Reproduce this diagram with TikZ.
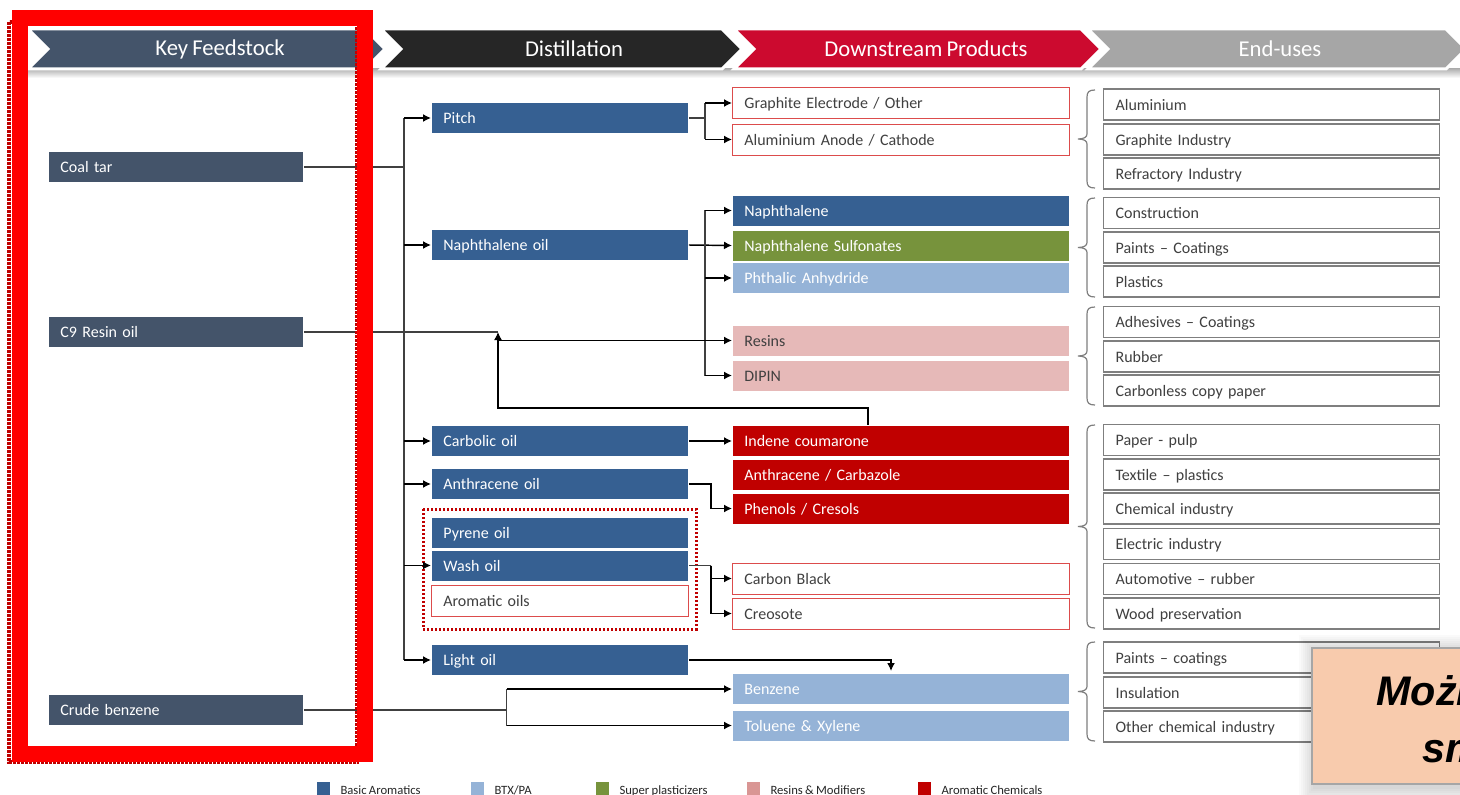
\documentclass[tikz,border=0pt]{standalone}
\usepackage{fontspec}
\setmainfont{Carlito}[WordSpace=0.8]
\newfontfamily\notefont{Liberation Sans}
\usetikzlibrary{arrows.meta}

\definecolor{slate}{HTML}{44546A}
\definecolor{basicblue}{HTML}{366092}
\definecolor{btxblue}{HTML}{95B3D7}
\definecolor{plastgreen}{HTML}{77933C}
\definecolor{resinpink}{HTML}{E6B9B8}
\definecolor{resinleg}{HTML}{D99694}
\definecolor{aromred}{HTML}{C00000}
\definecolor{boxred}{HTML}{DC4C4C}
\definecolor{hdred}{HTML}{CC0A2F}
\definecolor{hdgray}{HTML}{A6A6A6}
\definecolor{hddark}{HTML}{262626}
\definecolor{usegray}{HTML}{7F7F7F}
\definecolor{darktext}{HTML}{404040}
\definecolor{peach}{HTML}{F8CBAD}
\definecolor{hlred}{HTML}{FF0000}

\tikzset{every picture/.style={line width=0.75pt}}
\tikzset{
  basebox/.style={anchor=west, minimum height=23.25pt, inner xsep=9pt, inner ysep=0pt, align=left,
    font=\fontsize{12}{14}\selectfont, text height=10.4pt, text depth=1.8pt, draw=white, line width=0.6pt},
  feedbox/.style={basebox, fill=slate, text=white, text width=173.25pt},
  distbox/.style={basebox, fill=basicblue, text=white, text width=174.75pt},
  prodbox/.style={basebox, fill=#1, text=white, text width=234.75pt},
  pinkbox/.style={prodbox=resinpink, text=darktext},
  outbox/.style={basebox, fill=white, draw=boxred, text=darktext, text width=234.75pt},
  usebox/.style={basebox, fill=white, draw=usegray, text=darktext, text width=234pt, line width=0.9pt},
  chev/.style={draw=white, line width=2.25pt},
  hdtext/.style={text=white, font=\fontsize{17}{20}\selectfont},
  conn/.style={draw=black!75, line width=0.9pt},
  arr/.style={draw=black, line width=1.1pt, -{Latex[length=6pt,width=6pt]}},
  brace/.style={draw=usegray, line width=0.9pt},
  legtext/.style={anchor=base west, inner sep=0pt, text=black!85, font=\fontsize{9.5}{11}\selectfont},
  notetext/.style={anchor=base west, inner sep=0pt, font=\notefont\bfseries\itshape\fontsize{31}{36}\selectfont}
}

\begin{document}
\begin{tikzpicture}[x=0.75pt,y=0.75pt,yscale=-1,xscale=1]
\useasboundingbox (0,0) rectangle (1460,795);
\fill[white] (0,0) rectangle (1460,795);

%Header shadow
\shade[top color=black!30, bottom color=white] (28,69) rectangle (1460,78);
%Header chevrons
\foreach \L/\R/\col/\cx/\name/\lbl in {28/365/slate/220/hdfeed/Key Feedstock, 381/722/hddark/574/hddist/Distillation, 734/1081/hdred/926/hddown/Downstream Products, 1088/1446/hdgray/1280/hduse/End-uses}
{
  \draw[chev, fill=\col] (\L,29) -- (\R,29) -- (\R+20,49) -- (\R,69) -- (\L,69) -- (\L+20,49) -- cycle;
  \node[hdtext] (\name) at (\cx,49) {\lbl};
}

% Key feedstock
\node[feedbox] (coal) at (48,167) {Coal tar};
\node[feedbox] (c9) at (48,332) {C9 Resin oil};
\node[feedbox] (crude) at (48,710) {Crude benzene};

% Distillation
\node[distbox] (pitch) at (431,118) {Pitch};
\node[distbox] (naphoil) at (431,245) {Naphthalene oil};
\node[distbox] (carbolic) at (431,441) {Carbolic oil};
\node[distbox] (anthoil) at (431,484) {Anthracene oil};
\node[distbox] (pyrene) at (431,532.5) {Pyrene oil};
\node[distbox] (washoil) at (431,565.5) {Wash oil};
\node[outbox, text width=174.75pt] (aromoil) at (431,600.5) {Aromatic oils};
\node[distbox] (lightoil) at (431,660) {Light oil};
%Shape: dotted group
\draw[draw=aromred, line width=2.25pt, dash pattern={on 1.5pt off 1.5pt}] (423,509) rectangle (696,629);

% Downstream products
\node[outbox] (graphite) at (732,103) {Graphite Electrode / Other};
\node[outbox] (alu) at (732,139.5) {Aluminium Anode / Cathode};
\node[prodbox=basicblue] (naph) at (732,210.5) {Naphthalene};
\node[prodbox=plastgreen] (sulfon) at (732,245.5) {Naphthalene Sulfonates};
\node[prodbox=btxblue] (phthalic) at (732,278) {Phthalic Anhydride};
\node[pinkbox] (resins) at (732,340.5) {Resins};
\node[pinkbox] (dipin) at (732,375.5) {DIPIN};
\node[prodbox=aromred] (indene) at (732,440.5) {Indene coumarone};
\node[prodbox=aromred] (anthcarb) at (732,474.5) {Anthracene / Carbazole};
\node[prodbox=aromred] (phenols) at (732,508.5) {Phenols / Cresols};
\node[outbox] (cblack) at (732,578.5) {Carbon Black};
\node[outbox] (creosote) at (732,613.5) {Creosote};
\node[prodbox=btxblue] (benzene) at (732,689) {Benzene};
\node[prodbox=btxblue] (toluene) at (732,725.5) {Toluene \& Xylene};

% End-uses
\node[usebox] (aluminium) at (1103,104.5) {Aluminium};
\node[usebox] (graphind) at (1103,139.5) {Graphite Industry};
\node[usebox] (refract) at (1103,173.5) {Refractory Industry};
\node[usebox] (constr) at (1103,213) {Construction};
\node[usebox] (paints) at (1103,247.5) {Paints -- Coatings};
\node[usebox] (plastics) at (1103,281.5) {Plastics};
\node[usebox] (adhes) at (1103,322) {Adhesives -- Coatings};
\node[usebox] (rubber) at (1103,356.5) {Rubber};
\node[usebox] (carbonless) at (1103,390.5) {Carbonless copy paper};
\node[usebox] (paper) at (1103,440) {Paper - pulp};
\node[usebox] (textile) at (1103,474.5) {Textile -- plastics};
\node[usebox] (chemind) at (1103,508.5) {Chemical industry};
\node[usebox] (electric) at (1103,544) {Electric industry};
\node[usebox] (automot) at (1103,579) {Automotive -- rubber};
\node[usebox] (wood) at (1103,613.5) {Wood preservation};
\node[usebox] (paintsc) at (1103,657.5) {Paints -- coatings};
\node[usebox] (insul) at (1103,692.5) {Insulation};
\node[usebox] (otherchem) at (1103,726.5) {Other chemical industry};

%Shape: braces
\foreach \yt/\yb in {90/188, 198/297, 307/405, 425/628, 642/741}
{
  \pgfmathsetmacro\ym{(\yt+\yb)/2}
  \draw[brace] (1095,\yt) .. controls (1089,\yt) and (1087,\yt+2) .. (1087,\yt+7) -- (1087,\ym-5) .. controls (1087,\ym-2) and (1084,\ym) .. (1078,\ym) .. controls (1084,\ym) and (1087,\ym+2) .. (1087,\ym+5) -- (1087,\yb-7) .. controls (1087,\yb-2) and (1089,\yb) .. (1095,\yb);
}

%Straight Lines: coal tar trunk
\coordinate (jt) at (404,167);
\draw[conn] (coal.east) -- (jt);
\draw[conn] (jt |- pitch.west) -- (jt |- lightoil.west);
\foreach \n in {pitch,naphoil,carbolic,anthoil,washoil,lightoil}
  \draw[arr] (jt |- \n.west) -- (\n.west);

%Straight Lines: pitch
\coordinate (jp) at (705,118);
\draw[conn] (pitch.east) -- (jp);
\draw[conn] (jp |- graphite.west) -- (jp |- alu.west);
\foreach \n in {graphite,alu}
  \draw[arr] (jp |- \n.west) -- (\n.west);

%Straight Lines: naphthalene oil
\coordinate (jn) at (705,245);
\draw[arr] (naphoil.east) -- (sulfon.west);
\draw[conn] (jn |- naph.west) -- (jn |- dipin.west);
\foreach \n in {naph,phthalic,dipin}
  \draw[arr] (jn |- \n.west) -- (\n.west);

%Straight Lines: C9 resin oil and loop
\coordinate (jc) at (498,332);
\coordinate (jl) at (498,408);
\draw[conn] (c9.east) -- (jc);
\draw[arr] (jc |- resins.west) -- (resins.west);
\draw[arr] ([xshift=-24.75pt]indene.north) |- (jl) -- (jc);

%Straight Lines: carbolic, anthracene, wash oil
\draw[arr] (carbolic.east) -- (carbolic.east -| indene.west);
\draw[arr] (anthoil.east) -- ++(22,0) |- (phenols.west);
\draw[conn] (washoil.east) -- ++(22,0) coordinate (jw);
\draw[arr] (jw) |- (cblack.west);
\draw[arr] (jw) |- (creosote.west);

%Straight Lines: light oil
\coordinate (lotip) at (891,671);
\draw[arr] (lightoil.east) -| (lotip);

%Straight Lines: crude benzene
\draw[conn] (crude.east) -- ++(203,0) coordinate (jb);
\draw[conn] (jb |- benzene.west) -- (jb |- toluene.west);
\foreach \n in {benzene,toluene}
  \draw[arr] (jb |- \n.west) -- (\n.west);

% Legend
\foreach \x/\col/\lbl [count=\i] in {317/basicblue/{Basic Aromatics}, 471/btxblue/{BTX/PA}, 596/plastgreen/{Super plasticizers}, 747/resinleg/{Resins \& Modifiers}, 918/aromred/{Aromatic Chemicals}}
{
  \fill[\col] (\x,782) rectangle (\x+13,800);
  \node[legtext] (leg\i) at (\x+23,794) {\lbl};
}

%Shape: note box with shadow
\foreach \s in {1,...,8}
  \fill[black, opacity=0.02] (1315-2*\s,651-2*\s) rectangle (1480,787+2*\s);
\draw[draw=hdgray, line width=1.5pt, fill=peach] (1312,648) rectangle (1480,784);
\node[notetext] (note1) at (1376,705) {Możl};
\node[notetext] (note2) at (1422,762) {sm};

%Shape: highlight frame
\draw[draw=aromred, line width=2.6pt, dash pattern={on 2pt off 1pt}] (9,22) rectangle (357,762);
\draw[draw=hlred, line width=12pt] (20,18) rectangle (365,754);

\end{tikzpicture}
\end{document}
